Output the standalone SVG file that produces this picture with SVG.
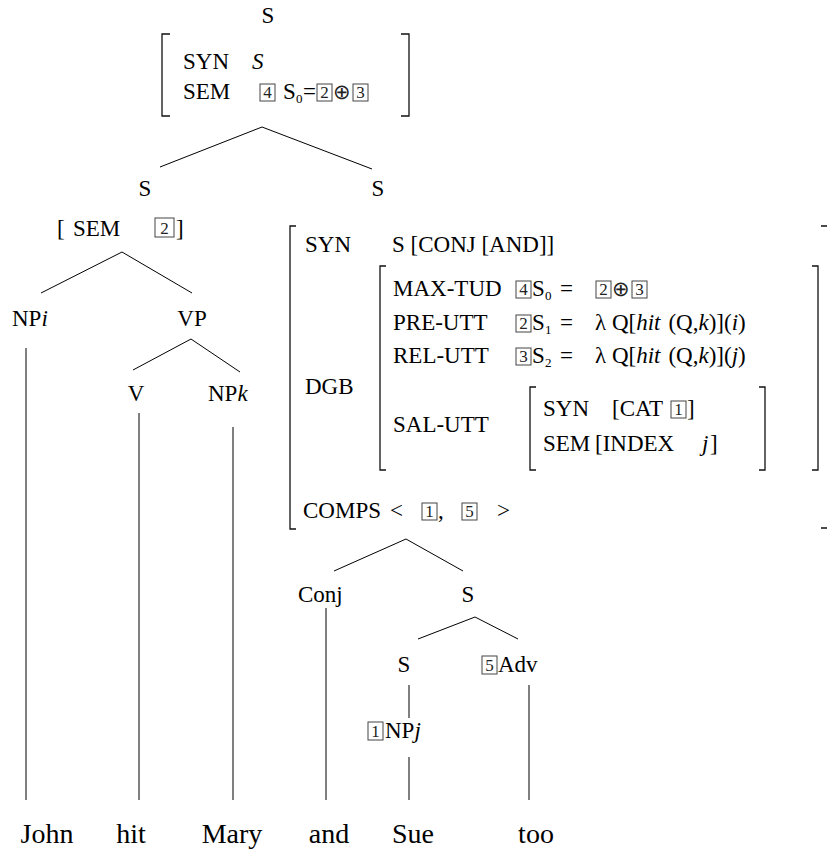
<svg xmlns="http://www.w3.org/2000/svg" width="827" height="849" viewBox="0 0 827 849">
<style>
text{font-family:"Liberation Serif","Times New Roman",serif;font-size:23px;fill:#000}
.w{font-size:28px;text-anchor:middle}
.m{text-anchor:middle}
.i{font-style:italic}
.sub{font-size:13px}
.bx{fill:none;stroke:#444;stroke-width:1}
.bd{font-size:17px;text-anchor:middle;fill:#222}
.op{font-family:"DejaVu Sans",sans-serif;font-size:21px;font-weight:200;text-anchor:middle;fill:#222}
.br{fill:none;stroke:#111;stroke-width:1.3}
.ln{fill:none;stroke:#000;stroke-width:1}
</style>
<g id="connectors" class="ln">
<path d="M262 127L160 167M262 127L372 169"/>
<path d="M122 252L41 293M122 252L192 293"/>
<path d="M191 339L133 370M191 339L240 372"/>
<path d="M26 348V800M139 413V800M233 427V800"/>
<path d="M406 539L334 571M406 539L463 571"/>
<path d="M475 617L418 639M475 617L518 639"/>
<path d="M326 608V800M409 685V718M409 757V800M529 685V800"/>
</g>
<g id="root">
<text class="m" x="268" y="23">S</text>
<path class="br" d="M170 34H162V116H170M401 34H409V116H401"/>
<text x="183" y="69">SYN</text><text class="i" x="252" y="69">S</text>
<text x="183" y="99">SEM</text>
<rect class="bx" x="260" y="84" width="15" height="17"/><text class="bd" x="267.5" y="98">4</text>
<text x="283" y="99">S</text><text class="sub" x="296" y="103">0</text><text x="303" y="99">=</text>
<rect class="bx" x="317" y="84" width="15" height="17"/><text class="bd" x="324.5" y="98">2</text>
<text class="op" x="342" y="99">⊕</text>
<rect class="bx" x="353" y="84" width="15" height="17"/><text class="bd" x="360.5" y="98">3</text>
</g>
<g id="s-left">
<text class="m" x="145" y="196">S</text>
<text x="57" y="236">[</text><text x="73" y="236">SEM</text>
<rect class="bx" x="155" y="218" width="19" height="19"/><text class="bd" x="164.5" y="234">2</text>
<text x="176" y="236">]</text>
</g>
<g id="np-i"><text x="12" y="326">NP<tspan class="i">i</tspan></text></g>
<g id="vp"><text class="m" x="192" y="326">VP</text></g>
<g id="v"><text class="m" x="136" y="401">V</text></g>
<g id="np-k"><text x="208" y="401">NP<tspan class="i">k</tspan></text></g>
<g id="s-right">
<text class="m" x="378" y="196">S</text>
<path class="br" d="M296 226H290V529H296"/>
<path class="br" d="M821 226H828V528H821"/>
<text x="305" y="252">SYN</text><text x="392" y="252">S [CONJ [AND]]</text>
<text x="305" y="394">DGB</text>
<path class="br" d="M386 266H380V470H386M812 266H818V470H812"/>
<text x="393" y="296">MAX-TUD</text>
<rect class="bx" x="516" y="281" width="15" height="17"/><text class="bd" x="523.5" y="295">4</text>
<text x="532" y="296">S</text><text class="sub" x="545" y="300">0</text><text x="560" y="296">=</text>
<rect class="bx" x="596" y="281" width="15" height="17"/><text class="bd" x="603.5" y="295">2</text>
<text class="op" x="621" y="296">⊕</text>
<rect class="bx" x="632" y="281" width="15" height="17"/><text class="bd" x="639.5" y="295">3</text>
<text x="393" y="330">PRE-UTT</text>
<rect class="bx" x="516" y="315" width="15" height="17"/><text class="bd" x="523.5" y="329">2</text>
<text x="532" y="330">S</text><text class="sub" x="545" y="334">1</text><text x="560" y="330">=</text>
<text x="595" y="330">λ Q[<tspan class="i">hit</tspan><tspan dx="8">(Q,</tspan><tspan class="i">k</tspan>)](<tspan class="i">i</tspan>)</text>
<text x="393" y="363">REL-UTT</text>
<rect class="bx" x="516" y="348" width="15" height="17"/><text class="bd" x="523.5" y="362">3</text>
<text x="532" y="363">S</text><text class="sub" x="545" y="367">2</text><text x="560" y="363">=</text>
<text x="595" y="363">λ Q[<tspan class="i">hit</tspan><tspan dx="8">(Q,</tspan><tspan class="i">k</tspan>)](<tspan class="i">j</tspan>)</text>
<text x="393" y="432">SAL-UTT</text>
<path class="br" d="M536 387H530V470H536M759 387H765V470H759"/>
<text x="543" y="416">SYN</text><text x="612" y="416">[CAT</text>
<rect class="bx" x="671" y="401" width="15" height="17"/><text class="bd" x="678.5" y="415">1</text>
<text x="687" y="416">]</text>
<text x="543" y="451">SEM</text><text x="595" y="451">[INDEX</text><text class="i" x="702" y="451">j</text><text x="710" y="451">]</text>
<text x="303" y="518">COMPS</text><text x="390" y="518">&lt;</text>
<rect class="bx" x="422" y="503" width="15" height="17"/><text class="bd" x="429.5" y="517">1</text>
<text x="438" y="518">,</text>
<rect class="bx" x="462" y="503" width="15" height="17"/><text class="bd" x="469.5" y="517">5</text>
<text x="497" y="518">&gt;</text>
</g>
<g id="conj"><text x="298" y="602">Conj</text></g>
<g id="s-sub"><text class="m" x="468" y="602">S</text></g>
<g id="s-low"><text class="m" x="404" y="672">S</text></g>
<g id="adv">
<rect class="bx" x="482" y="656" width="15" height="18"/><text class="bd" x="489.5" y="671">5</text>
<text x="498" y="672">Adv</text>
</g>
<g id="np-j">
<rect class="bx" x="368" y="722" width="15" height="18"/><text class="bd" x="375.5" y="737">1</text>
<text x="385" y="738">NP<tspan class="i">j</tspan></text>
</g>
<g id="words">
<text class="w" x="47" y="843">John</text>
<text class="w" x="131" y="843">hit</text>
<text class="w" x="232" y="843">Mary</text>
<text class="w" x="329" y="843">and</text>
<text class="w" x="413" y="843">Sue</text>
<text class="w" x="536" y="843">too</text>
</g>
</svg>
